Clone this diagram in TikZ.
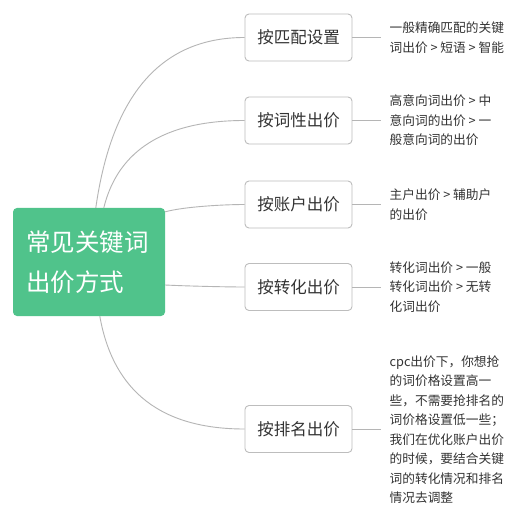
\documentclass[tikz,border=0pt]{standalone}
\usepackage{fontspec}
\setmainfont{Noto Sans CJK SC}
\usetikzlibrary{calc}
\definecolor{rootgreen}{HTML}{50C38B}
\definecolor{txt}{HTML}{333333}
\definecolor{boxline}{HTML}{BDBDBD}
\definecolor{conn}{HTML}{B5B5B5}
\begin{document}
\begin{tikzpicture}[x=1pt,y=-1pt,
  rootbox/.style={fill=rootgreen, rounded corners=4pt, minimum width=152pt, minimum height=108pt,
    text width=126pt, inner xsep=13pt, align=left, text=white, font=\fontsize{24.5}{40}\selectfont},
  branchbox/.style={draw=boxline, line width=0.9pt, fill=white, rounded corners=4pt, minimum width=107pt,
    minimum height=47pt, text=txt, font=\fontsize{16.5}{20}\selectfont},
  conline/.style={draw=conn, line width=0.9pt},
  note/.style={anchor=west, align=left, inner sep=0pt, text=txt, font=\fontsize{12.7}{19.5}\selectfont}
]
\useasboundingbox (0,0) rectangle (517,526);
\fill[white] (0,0) rectangle (517,526);

\node[rootbox] (root) at (89,262) {常见关键词\\出价方式};

\node[branchbox] (b1) at (298.5,37.5) {按匹配设置};
\node[branchbox] (b2) at (298.5,120.5) {按词性出价};
\node[branchbox] (b3) at (298.5,204.5) {按账户出价};
\node[branchbox] (b4) at (298.5,287) {按转化出价};
\node[branchbox] (b5) at (298.5,429) {按排名出价};

\draw[conline] ([xshift=83pt]root.north west) .. controls (112,94) and (161.7,37.5) .. (b1.west);
\draw[conline] ([xshift=91pt]root.north west) .. controls (118,150) and (165,120.5) .. (b2.west);
\draw[conline] ([yshift=-4pt]root.north east) .. controls (185,206.5) and (225,204.5) .. (b3.west);
\draw[conline] ([yshift=-23pt]root.east) .. controls (185,286) and (225,287) .. (b4.west);
\draw[conline] ([xshift=87pt]root.south west) .. controls (113.3,392) and (161.7,429) .. (b5.west);

\foreach \i in {1,...,5}{
  \coordinate (e\i) at ([xshift=29pt]b\i.east);
  \draw[conline] (b\i.east) -- (e\i);
}

\node[note] (n1) at ([xshift=8pt]e1) {一般精确匹配的关键\\词出价 > 短语 > 智能};
\node[note] (n2) at ([xshift=8pt]e2) {高意向词出价 > 中\\意向词的出价 > 一\\般意向词的出价};
\node[note] (n3) at ([xshift=8pt]e3) {主户出价 > 辅助户\\的出价};
\node[note] (n4) at ([xshift=8pt]e4) {转化词出价 > 一般\\转化词出价 > 无转\\化词出价};
\node[note] (n5) at ([xshift=8pt,yshift=-0.5pt]e5) {cpc出价下，你想抢\\的词价格设置高一\\些，不需要抢排名的\\词价格设置低一些；\\我们在优化账户出价\\的时候，要结合关键\\词的转化情况和排名\\情况去调整};
\end{tikzpicture}
\end{document}
